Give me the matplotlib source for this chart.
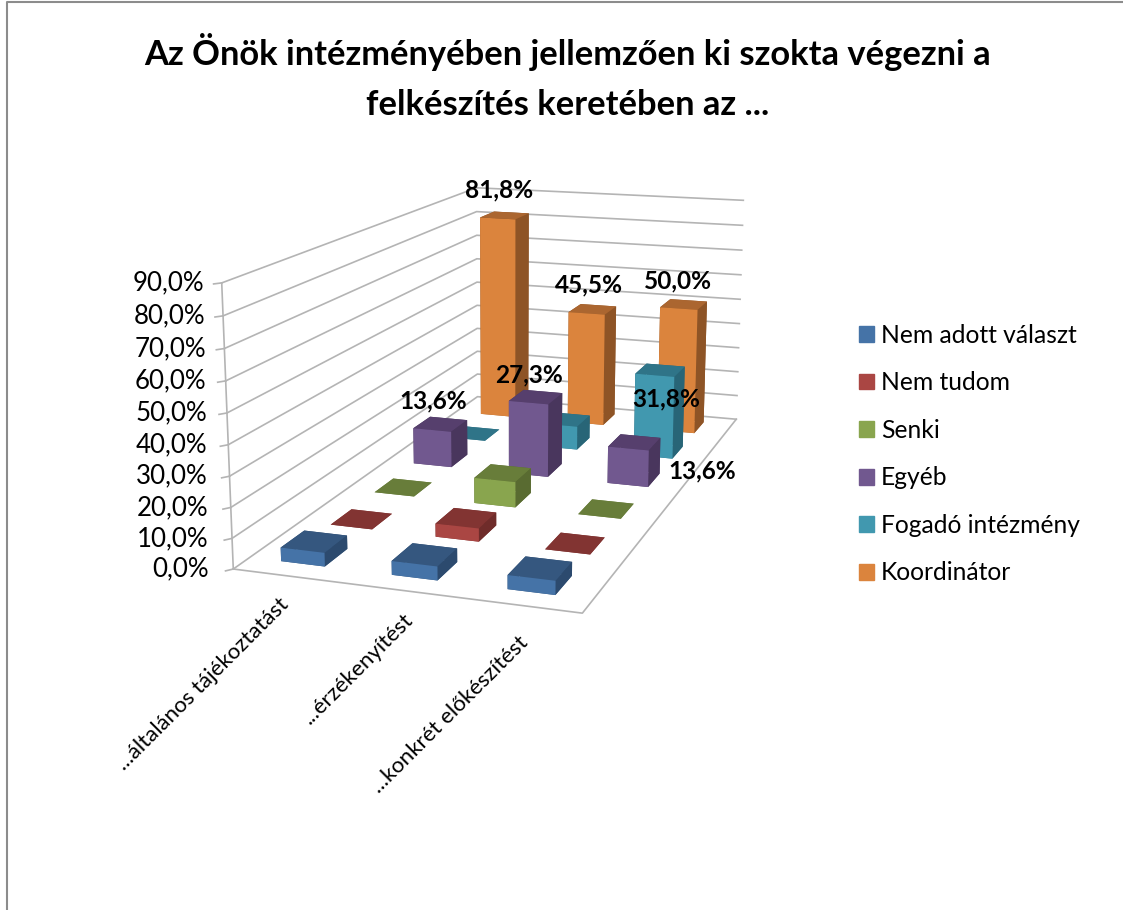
import numpy as np
import matplotlib
matplotlib.use('Agg')
import matplotlib.pyplot as plt
from matplotlib.patches import Patch
from mpl_toolkits.mplot3d import proj3d

plt.rcParams['font.family'] = ['Lato', 'DejaVu Sans']

title = 'Az Önök intézményében jellemzően ki szokta végezni a\nfelkészítés keretében az ...'
categories = ['...általános tájékoztatást', '...érzékenyítést', '...konkrét előkészítést']
series = ['Nem adott választ', 'Nem tudom', 'Senki', 'Egyéb', 'Fogadó intézmény', 'Koordinátor']

nem_adott = [4.5, 4.5, 4.5]
nem_tudom = [0.0, 4.5, 0.0]
senki = [0.0, 9.1, 0.0]
egyeb = [13.6, 27.3, 13.6]
fogado = [0.0, 9.1, 31.8]
koordinator = [81.8, 45.5, 50.0]
values = [nem_adott, nem_tudom, senki, egyeb, fogado, koordinator]

z_ticks = [0, 10, 20, 30, 40, 50, 60, 70, 80, 90]

# front, top, side colours per series
front = ['#4573a7', '#aa4643', '#89a54e', '#71588f', '#4198af', '#db843d']
top = ['#35577f', '#823432', '#687d3a', '#563f6d', '#2f7488', '#ab6630']
side = ['#2c4a6e', '#6f2c2a', '#596b31', '#49365d', '#286577', '#8e5426']

fig = plt.figure(figsize=(11.23, 9.10), dpi=100)
ax = fig.add_axes([0.1759, 0.1, 0.6483, 0.8], projection='3d', computed_zorder=False)
ax.set_xlim(0, 3, view_margin=0); ax.set_ylim(0, 6, view_margin=0); ax.set_zlim(0, 90, view_margin=0)
ax.view_init(13.548, -71.487, -0.078)
ax.set_proj_type('persp', focal_length=0.433)
ax.set_box_aspect((1.25, 2.462, 1))
ax.set_axis_off()
ax.patch.set_alpha(0)

# move the axes so that the projected view lands on the reference corners
fig.canvas.draw()
p0 = ax.transData.transform((0, 0)); p1 = ax.transData.transform((1, 0))
s0 = p1[0] - p0[0]
r = 3930.84 / s0
L = 728 * r
ax.set_position([0, 0, L/1123, L/910])
fig.canvas.draw()
p0 = ax.transData.transform((0, 0))
left = (519.83 - p0[0]) / 1123
bottom = ((910 - 361.88) - p0[1]) / 910
ax.set_position([left, bottom, L/1123, L/910])
fig.canvas.draw()

grid = '#b4b4b4'
for z in z_ticks:
    ax.plot([0, 0, 3], [0, 6, 6], [z, z, z], color=grid, lw=1.2, zorder=1)
    ax.plot([0, -0.04], [0, -0.06], [z, z], color=grid, lw=1.2, zorder=1)
ax.plot([0, 0], [0, 0], [0, 90], color=grid, lw=1.2, zorder=1)
ax.plot([0, 3, 3], [0, 0, 6], [0, 0, 0], color=grid, lw=1.2, zorder=1)

# back to front so that nearer bars cover the ones behind
order = 10
bar_w = 0.4; bar_d = 0.46
for j in range(len(series) - 1, -1, -1):
    for i in range(len(categories)):
        v = values[j][i]
        ax.bar3d(i + 0.49 - bar_w/2, j + 0.53 - bar_d/2, 0, bar_w, bar_d, v, shade=False,
                 color=[top[j], top[j], front[j], side[j], side[j], side[j]],
                 linewidth=0, zorder=order)
        order += 1

M = ax.get_proj()
def to2d(x, y, z):
    vx, vy, _ = proj3d.proj_transform(x, y, z, M)
    return vx, vy

# value labels, only for the ones shown in the reference (category, series, pixel offset)
labelled = [(0, 5, -7, 14), (1, 5, -5, 13), (2, 5, -7, 12), (0, 3, -8, 12), (1, 3, -8, 10),
            (2, 3, 67, -40), (2, 4, 5, -40)]
for i, j, dx, dy in labelled:
    ax.annotate(('%.1f%%' % values[j][i]).replace('.', ','), to2d(i + 0.5, j + 0.54, values[j][i]),
                xytext=(dx, dy), textcoords='offset pixels', ha='center', va='bottom',
                fontsize=17.6, fontweight='bold', color='black', zorder=500)

for z in z_ticks:
    ax.annotate(('%.1f%%' % z).replace('.', ','), to2d(0, 0, z), xytext=(-24 + 7*z/90, 0), textcoords='offset pixels',
                ha='right', va='center', fontsize=18.6, color='black', zorder=500)

cat_dx = [-15, -5, -9]
cat_dy = [-18, -18, -26]
for i, c in enumerate(categories):
    ax.annotate(c, to2d(i + 0.55, 0, 0), xytext=(cat_dx[i], cat_dy[i]), textcoords='offset pixels', ha='right', va='top',
                rotation=45, rotation_mode='anchor', fontsize=16, color='black', zorder=500)

fig.text(568/1123, 1 - 77/910, title, ha='center', va='center', fontsize=24.8, fontweight='bold', linespacing=1.7)

handles = [Patch(color=c) for c in front]
fig.legend(handles, series, loc='center left', bbox_to_anchor=(837/1123, 1 - 454/910), frameon=False,
           fontsize=17.7, labelspacing=1.0, handlelength=0.61, handleheight=0.61, handletextpad=0.28)

# chart frame
fig.add_artist(plt.Line2D([7/1123, 7/1123, 1], [0, 1 - 2/910, 1 - 2/910], color='#8c8c8c', lw=1.5))

fig.savefig('out.png', dpi=100)
